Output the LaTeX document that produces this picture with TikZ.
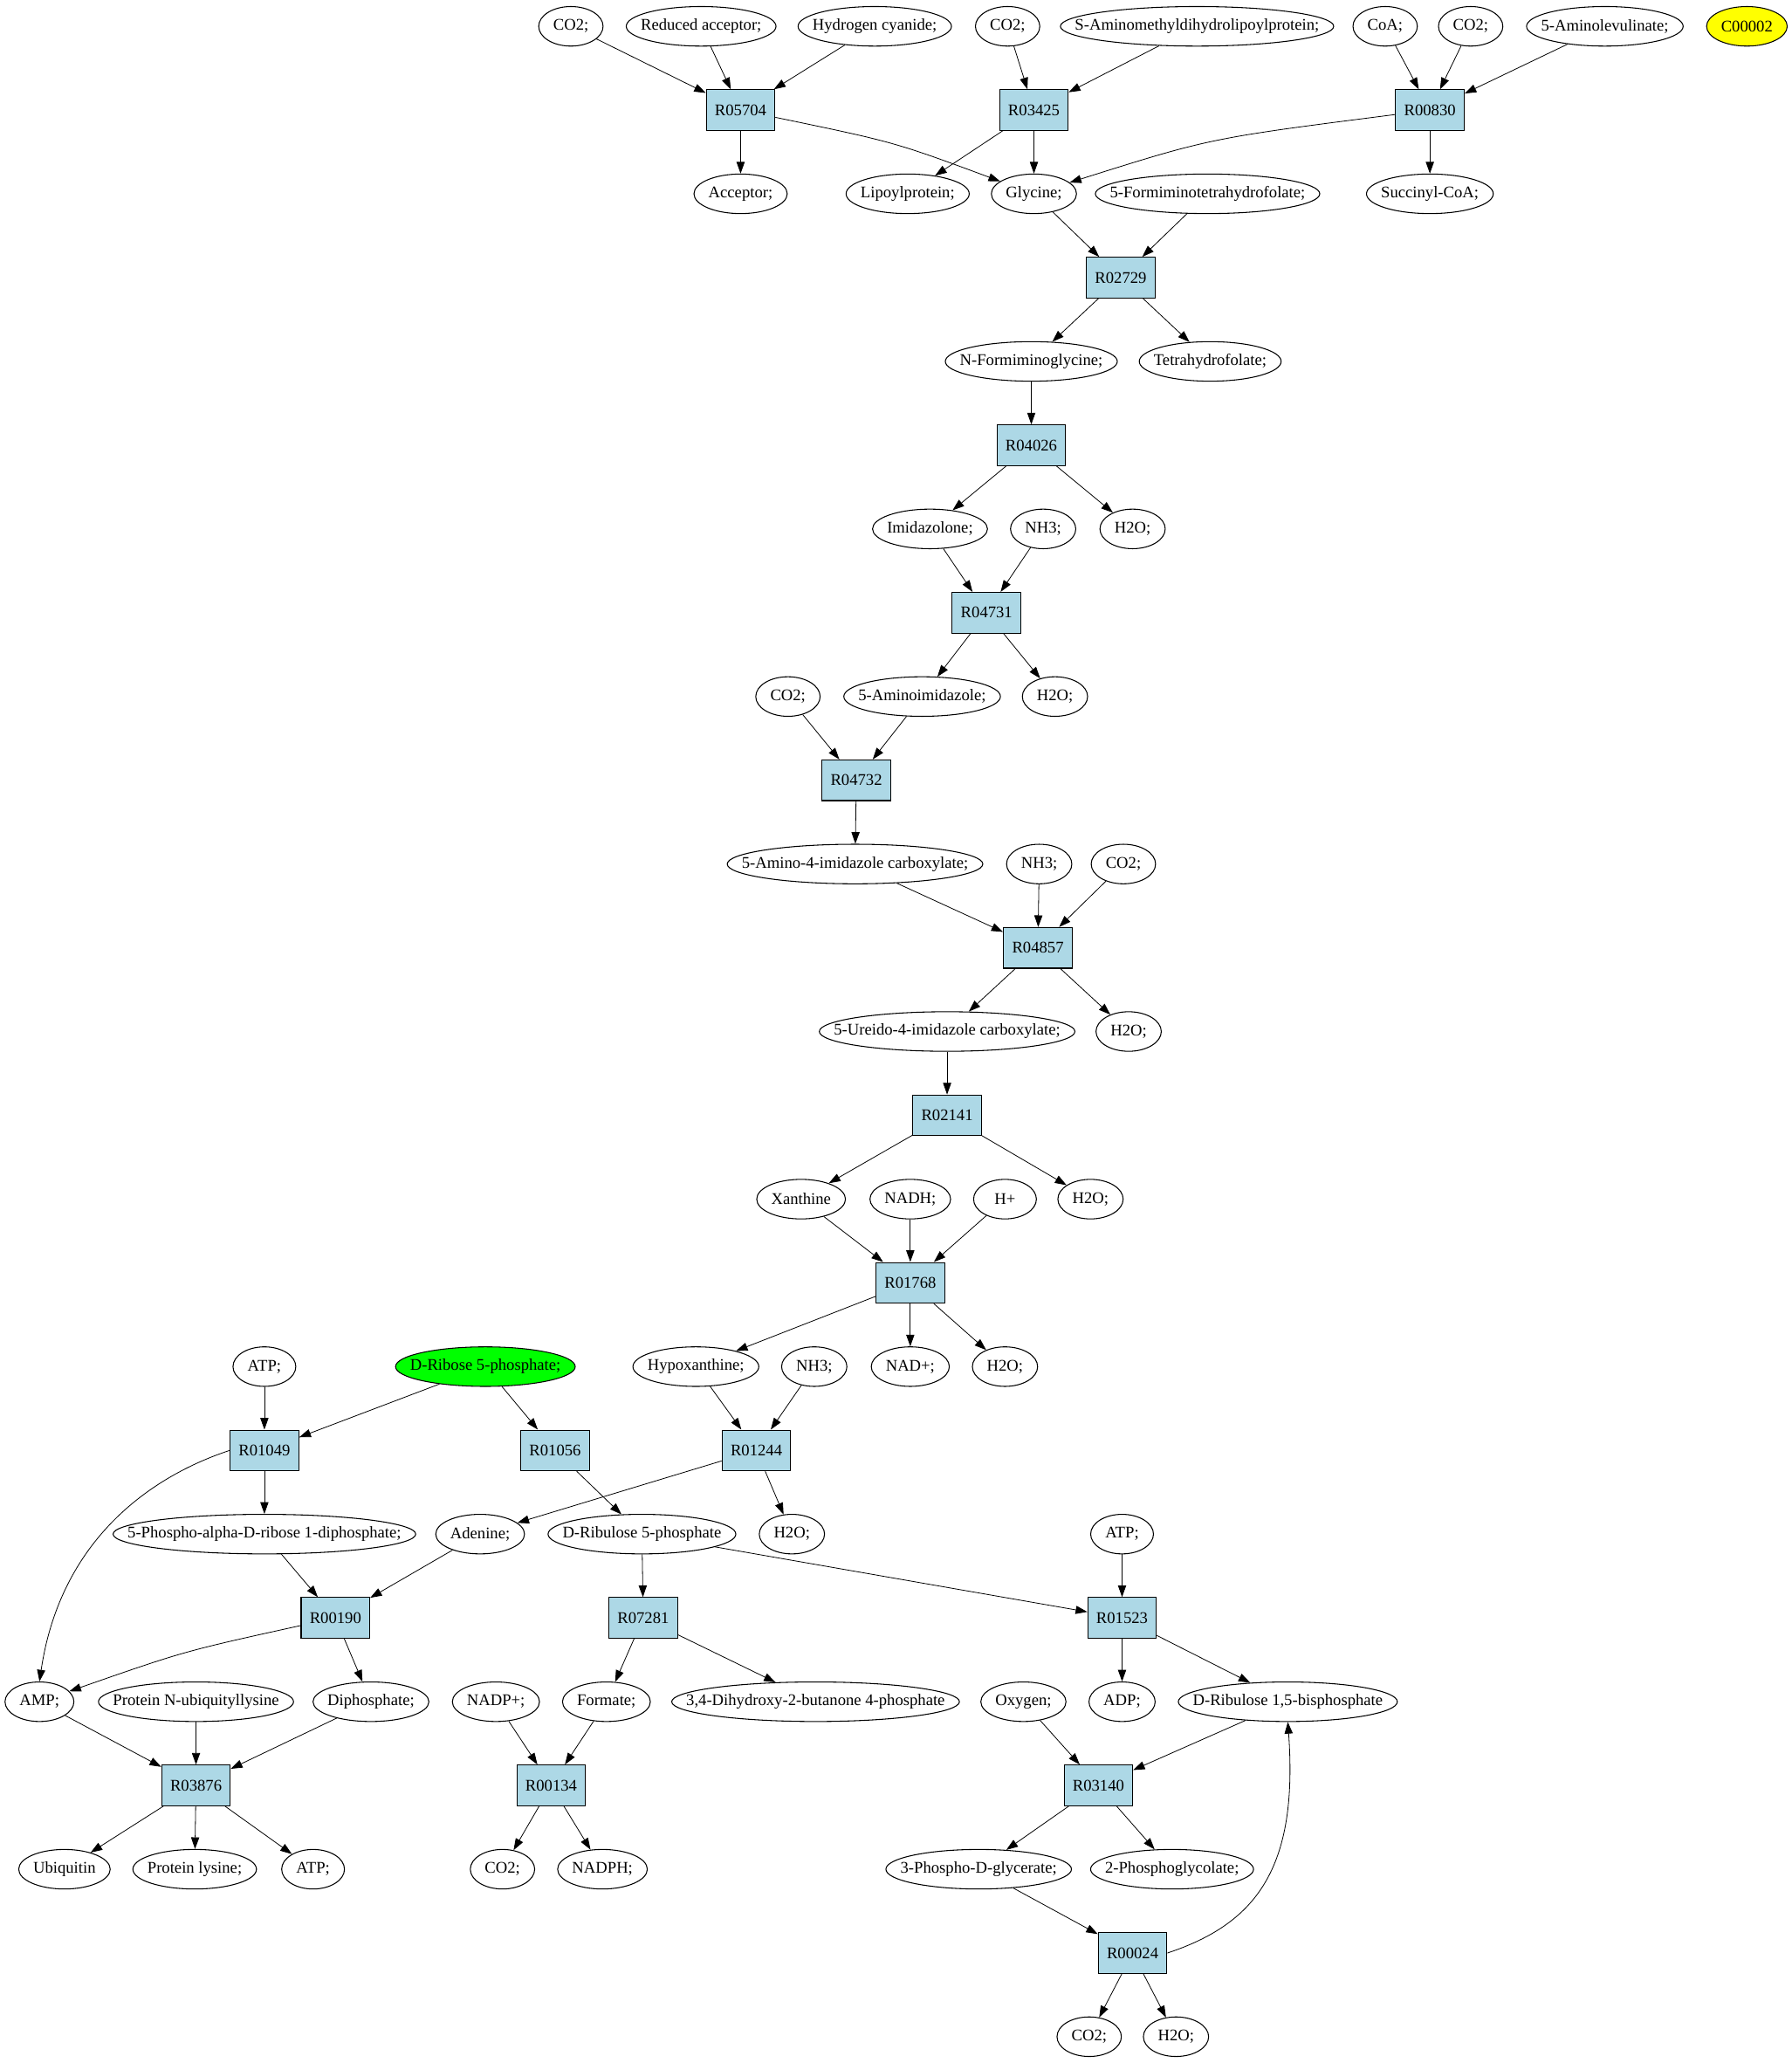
\documentclass[tikz,border=0pt]{standalone}
\usepackage{fontspec}
\setmainfont{Liberation Serif}
\usetikzlibrary{arrows.meta,shapes.geometric}
\definecolor{boxblue}{HTML}{ADD8E6}
\definecolor{greenfill}{HTML}{00FF00}
\definecolor{yellowfill}{HTML}{FFFF00}
\newcommand\elfont{\fontsize{14pt}{16pt}\selectfont}
\newcommand\elnode[4][]{%
  \node[ell,#1] (#2) at (#3) {\makebox[0.7071\width]{#4}};%
}
\newcommand\rxn[3]{\node[rbox] (#1) at (#2) {#3};}
\begin{document}
\begin{tikzpicture}[x=1.131pt,y=-1.131pt,
  ell/.style={ellipse,draw,line width=0.8pt,inner xsep=8.84pt,inner ysep=0pt,minimum width=54pt,minimum height=34pt,font=\elfont},
  rbox/.style={rectangle,draw,line width=0.8pt,fill=boxblue,minimum width=59pt,minimum height=35pt,inner sep=2pt,font=\elfont},
  arr/.style={-{Triangle[length=10pt,width=7pt]},line width=0.6pt}]
\useasboundingbox (0,0) rectangle (1362,1568);
% row 0
\elnode{co2a}{434,20}{CO2;}
\elnode{redacc}{533,20}{Reduced acceptor;}
\elnode{hcn}{665,20}{Hydrogen cyanide;}
\elnode{co2b}{766,20}{CO2;}
\elnode{samino}{910,20}{S-Aminomethyldihydrolipoylprotein;}
\elnode{coa}{1053,20}{CoA;}
\elnode{co2c}{1118,20}{CO2;}
\elnode{aminolev}{1220,20}{5-Aminolevulinate;}
\elnode[fill=yellowfill]{cfinal}{1328,20}{C00002}
% row 1
\rxn{R05704}{563,83.7}{R05704}
\rxn{R03425}{786,83.7}{R03425}
\rxn{R00830}{1087,83.7}{R00830}
% row 2
\elnode{acceptor}{563,147.3}{Acceptor;}
\elnode{lipoyl}{690,147.3}{Lipoylprotein;}
\elnode{glycine}{786,147.3}{Glycine;}
\elnode{formthf}{918,147.3}{5-Formiminotetrahydrofolate;}
\elnode{succcoa}{1087,147.3}{Succinyl-CoA;}
% row 3
\rxn{R02729}{852,211}{R02729}
% row 4
\elnode{nform}{784,274.7}{N-Formiminoglycine;}
\elnode{thf}{920,274.7}{Tetrahydrofolate;}
% row 5
\rxn{R04026}{784,338.4}{R04026}
% row 6
\elnode{imidazolone}{707,402}{Imidazolone;}
\elnode{nh3a}{793,402}{NH3;}
\elnode{h2oa}{861,402}{H2O;}
% row 7
\rxn{R04731}{750,465.7}{R04731}
% row 8
\elnode{co2d}{599,529.4}{CO2;}
\elnode{aminoimid}{701,529.4}{5-Aminoimidazole;}
\elnode{h2ob}{802,529.4}{H2O;}
% row 9
\rxn{R04732}{651,593}{R04732}
% row 10
\elnode{aicarb}{650,656.7}{5-Amino-4-imidazole carboxylate;}
\elnode{nh3b}{790,656.7}{NH3;}
\elnode{co2e}{854,656.7}{CO2;}
% row 11
\rxn{R04857}{789,720.4}{R04857}
% row 12
\elnode{ureido}{720,784}{5-Ureido-4-imidazole carboxylate;}
\elnode{h2oc}{858,784}{H2O;}
% row 13
\rxn{R02141}{720,847.7}{R02141}
% row 14
\elnode{xanthine}{609,911.4}{Xanthine}
\elnode{nadh}{692,911.4}{NADH;}
\elnode{hplus}{764,911.4}{H+}
\elnode{h2od}{829,911.4}{H2O;}
% row 15
\rxn{R01768}{692,975}{R01768}
% row 16
\elnode{atpa}{201,1038.7}{ATP;}
\elnode[fill=greenfill]{r5p}{369,1038.7}{D-Ribose 5-phosphate;}
\elnode{hypox}{529,1038.7}{Hypoxanthine;}
\elnode{nh3c}{619,1038.7}{NH3;}
\elnode{nadplus}{692,1038.7}{NAD+;}
\elnode{h2oe}{764,1038.7}{H2O;}
% row 17
\rxn{R01049}{201,1102.4}{R01049}
\rxn{R01056}{422,1102.4}{R01056}
\rxn{R01244}{575,1102.4}{R01244}
% row 18
\elnode{prpp}{201,1166}{5-Phospho-alpha-D-ribose 1-diphosphate;}
\elnode{adenine}{365,1166}{Adenine;}
\elnode{ru5p}{488,1166}{D-Ribulose 5-phosphate}
\elnode{h2of}{602,1166}{H2O;}
\elnode{atpb}{853,1166}{ATP;}
% row 19
\rxn{R00190}{255,1229.7}{R00190}
\rxn{R07281}{489,1229.7}{R07281}
\rxn{R01523}{853,1229.7}{R01523}
% row 20
\elnode{amp}{30,1293.4}{AMP;}
\elnode{pnub}{149,1293.4}{Protein N-ubiquityllysine}
\elnode{diphos}{282,1293.4}{Diphosphate;}
\elnode{nadpplus}{377,1293.4}{NADP+;}
\elnode{formate}{461,1293.4}{Formate;}
\elnode{dhbp}{620,1293.4}{3,4-Dihydroxy-2-butanone 4-phosphate}
\elnode{oxygen}{778,1293.4}{Oxygen;}
\elnode{adp}{853,1293.4}{ADP;}
\elnode{rubp}{979,1293.4}{D-Ribulose 1,5-bisphosphate}
% row 21
\rxn{R03876}{149,1357}{R03876}
\rxn{R00134}{419,1357}{R00134}
\rxn{R03140}{835,1357}{R03140}
% row 22
\elnode{ubiquitin}{49,1420.7}{Ubiquitin}
\elnode{plys}{148,1420.7}{Protein lysine;}
\elnode{atpc}{238,1420.7}{ATP;}
\elnode{co2f}{382,1420.7}{CO2;}
\elnode{nadph}{458,1420.7}{NADPH;}
\elnode{pga}{744,1420.7}{3-Phospho-D-glycerate;}
\elnode{pglyc}{891,1420.7}{2-Phosphoglycolate;}
% row 23
\rxn{R00024}{861,1484.4}{R00024}
% row 24
\elnode{co2g}{828,1548}{CO2;}
\elnode{h2og}{894,1548}{H2O;}
% edges
\draw[arr] (co2a) -- (R05704);
\draw[arr] (redacc) -- (R05704);
\draw[arr] (hcn) -- (R05704);
\draw[arr] (R05704) -- (acceptor);
\draw[arr] (R05704) .. controls (680,108) .. (glycine);
\draw[arr] (co2b) -- (R03425);
\draw[arr] (samino) -- (R03425);
\draw[arr] (R03425) -- (lipoyl);
\draw[arr] (R03425) -- (glycine);
\draw[arr] (coa) -- (R00830);
\draw[arr] (co2c) -- (R00830);
\draw[arr] (aminolev) -- (R00830);
\draw[arr] (R00830) .. controls (920,105) .. (glycine);
\draw[arr] (R00830) -- (succcoa);
\draw[arr] (glycine) -- (R02729);
\draw[arr] (formthf) -- (R02729);
\draw[arr] (R02729) -- (nform);
\draw[arr] (R02729) -- (thf);
\draw[arr] (nform) -- (R04026);
\draw[arr] (R04026) -- (imidazolone);
\draw[arr] (R04026) -- (h2oa);
\draw[arr] (imidazolone) -- (R04731);
\draw[arr] (nh3a) -- (R04731);
\draw[arr] (R04731) -- (aminoimid);
\draw[arr] (R04731) -- (h2ob);
\draw[arr] (co2d) -- (R04732);
\draw[arr] (aminoimid) -- (R04732);
\draw[arr] (R04732) -- (aicarb);
\draw[arr] (aicarb) -- (R04857);
\draw[arr] (nh3b) -- (R04857);
\draw[arr] (co2e) -- (R04857);
\draw[arr] (R04857) -- (ureido);
\draw[arr] (R04857) -- (h2oc);
\draw[arr] (ureido) -- (R02141);
\draw[arr] (R02141) -- (xanthine);
\draw[arr] (R02141) -- (h2od);
\draw[arr] (xanthine) -- (R01768);
\draw[arr] (nadh) -- (R01768);
\draw[arr] (hplus) -- (R01768);
\draw[arr] (R01768) -- (hypox);
\draw[arr] (R01768) -- (nadplus);
\draw[arr] (R01768) -- (h2oe);
\draw[arr] (atpa) -- (R01049);
\draw[arr] (r5p) -- (R01049);
\draw[arr] (r5p) -- (R01056);
\draw[arr] (hypox) -- (R01244);
\draw[arr] (nh3c) -- (R01244);
\draw[arr] (R01049) -- (prpp);
\draw[arr] (R01049.west) .. controls (115,1122) and (46,1170) .. (amp.north);
\draw[arr] (R01056) -- (ru5p);
\draw[arr] (R01244) -- (adenine);
\draw[arr] (R01244) -- (h2of);
\draw[arr] (prpp) -- (R00190);
\draw[arr] (adenine) -- (R00190);
\draw[arr] (ru5p) -- (R07281);
\draw[arr] (ru5p) -- (R01523);
\draw[arr] (atpb) -- (R01523);
\draw[arr] (R00190) .. controls (140,1255) .. (amp);
\draw[arr] (R00190) -- (diphos);
\draw[arr] (R07281) -- (formate);
\draw[arr] (R07281) -- (dhbp);
\draw[arr] (R01523) -- (adp);
\draw[arr] (R01523) -- (rubp);
\draw[arr] (amp) -- (R03876);
\draw[arr] (pnub) -- (R03876);
\draw[arr] (diphos) -- (R03876);
\draw[arr] (nadpplus) -- (R00134);
\draw[arr] (formate) -- (R00134);
\draw[arr] (oxygen) -- (R03140);
\draw[arr] (rubp) -- (R03140);
\draw[arr] (R03876) -- (ubiquitin);
\draw[arr] (R03876) -- (plys);
\draw[arr] (R03876) -- (atpc);
\draw[arr] (R00134) -- (co2f);
\draw[arr] (R00134) -- (nadph);
\draw[arr] (R03140) -- (pga);
\draw[arr] (R03140) -- (pglyc);
\draw[arr] (pga) -- (R00024);
\draw[arr] (R00024.east) .. controls (955,1462) and (987,1420) .. (rubp.south);
\draw[arr] (R00024) -- (co2g);
\draw[arr] (R00024) -- (h2og);
\end{tikzpicture}
\end{document}
